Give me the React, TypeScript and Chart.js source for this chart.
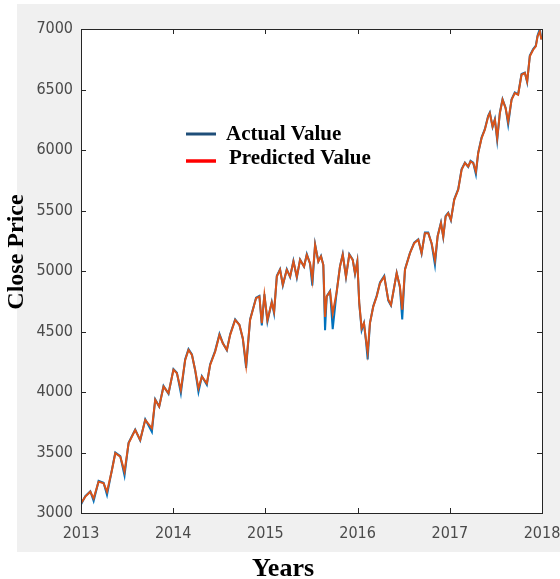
import React, { useEffect, useRef } from "react";
import { Chart, registerables } from "chart.js";

Chart.register(...registerables);

const yearTicks = [2013, 2014, 2015, 2016, 2017, 2018];
const priceTicks = [3000, 3500, 4000, 4500, 5000, 5500, 6000, 6500, 7000];

const years = [
  2013.0, 2013.047, 2013.101, 2013.137, 2013.191, 2013.245, 2013.282, 2013.336, 2013.372, 2013.426,
  2013.472, 2013.516, 2013.588, 2013.642, 2013.697, 2013.769, 2013.805, 2013.848, 2013.895, 2013.949,
  2014.003, 2014.04, 2014.083, 2014.13, 2014.166, 2014.203, 2014.238, 2014.274, 2014.311, 2014.365,
  2014.401, 2014.455, 2014.502, 2014.538, 2014.582, 2014.618, 2014.672, 2014.718, 2014.755, 2014.791,
  2014.834, 2014.899, 2014.935, 2014.961, 2014.989, 2015.022, 2015.069, 2015.094, 2015.124, 2015.159,
  2015.189, 2015.232, 2015.268, 2015.304, 2015.341, 2015.376, 2015.419, 2015.449, 2015.484, 2015.509,
  2015.539, 2015.574, 2015.603, 2015.628, 2015.647, 2015.665, 2015.701, 2015.73, 2015.774, 2015.809,
  2015.839, 2015.874, 2015.91, 2015.947, 2015.972, 2015.997, 2016.018, 2016.044, 2016.069, 2016.091,
  2016.109, 2016.134, 2016.17, 2016.207, 2016.243, 2016.289, 2016.333, 2016.362, 2016.424, 2016.459,
  2016.484, 2016.514, 2016.568, 2016.614, 2016.658, 2016.694, 2016.73, 2016.766, 2016.803, 2016.839,
  2016.868, 2016.904, 2016.929, 2016.955, 2016.983, 2017.012, 2017.048, 2017.091, 2017.128, 2017.164,
  2017.2, 2017.225, 2017.254, 2017.283, 2017.308, 2017.345, 2017.38, 2017.416, 2017.434, 2017.464,
  2017.489, 2017.514, 2017.543, 2017.572, 2017.605, 2017.633, 2017.67, 2017.705, 2017.741, 2017.778,
  2017.814, 2017.839, 2017.868, 2017.904, 2017.933, 2017.952, 2017.976, 2017.994,
];

const actualValues = [
  3070, 3140, 3180, 3100, 3265, 3250, 3150, 3360, 3500, 3470,
  3310, 3580, 3690, 3600, 3775, 3670, 3940, 3880, 4050, 3985,
  4190, 4160, 3990, 4270, 4355, 4310, 4180, 4000, 4130, 4060,
  4230, 4340, 4480, 4405, 4345, 4478, 4600, 4555, 4440, 4200,
  4600, 4780, 4795, 4550, 4808, 4580, 4745, 4650, 4960, 5015,
  4880, 5015, 4950, 5085, 4945, 5095, 5035, 5140, 5060, 4880,
  5220, 5080, 5125, 5050, 4510, 4790, 4835, 4520, 4835, 5040,
  5140, 4950, 5140, 5095, 4975, 5080, 4730, 4510, 4570, 4420,
  4270, 4570, 4710, 4795, 4905, 4960, 4755, 4715, 4985, 4865,
  4600, 5015, 5150, 5235, 5262, 5145, 5318, 5318, 5225, 5050,
  5290, 5400, 5280, 5455, 5482, 5420, 5592, 5676, 5842, 5896,
  5860, 5910, 5895, 5800, 5978, 6104, 6172, 6282, 6310, 6190,
  6255, 6080, 6310, 6420, 6350, 6210, 6420, 6476, 6460, 6628,
  6640, 6560, 6780, 6834, 6862, 6946, 7000, 6915,
];

const predictedValues = [
  3080, 3135, 3176, 3121, 3259, 3245, 3176, 3356, 3494, 3466,
  3342, 3576, 3686, 3604, 3769, 3700, 3935, 3879, 4044, 3990,
  4183, 4155, 4017, 4265, 4348, 4307, 4183, 4031, 4127, 4072,
  4224, 4334, 4472, 4403, 4348, 4472, 4596, 4555, 4445, 4224,
  4596, 4776, 4789, 4569, 4803, 4596, 4740, 4665, 4954, 5010,
  4886, 5010, 4954, 5078, 4954, 5092, 5037, 5134, 5065, 4927,
  5216, 5078, 5120, 5051, 4620, 4789, 4830, 4650, 4830, 5037,
  5134, 4954, 5134, 5092, 4982, 5078, 4734, 4527, 4569, 4431,
  4330, 4569, 4706, 4789, 4900, 4954, 4762, 4720, 4982, 4872,
  4680, 5010, 5148, 5230, 5258, 5148, 5313, 5313, 5230, 5090,
  5285, 5396, 5285, 5450, 5478, 5423, 5588, 5671, 5837, 5892,
  5864, 5905, 5892, 5822, 5974, 6099, 6168, 6277, 6305, 6195,
  6250, 6099, 6305, 6415, 6346, 6236, 6415, 6471, 6457, 6622,
  6636, 6567, 6774, 6829, 6857, 6940, 6981, 6912,
];

const legendLabels = ["Actual Value", "Predicted Value"];

const tickFont = '"Liberation Sans Narrow", "DejaVu Sans Condensed", "Liberation Sans", Arial, sans-serif';
const serifFont = '"Liberation Serif", "Times New Roman", serif';

const decorPlugin = {
  id: "decor",
  beforeDraw(chart: any) {
    const ctx = chart.ctx;
    const { left, right, top, bottom } = chart.chartArea;
    ctx.save();
    ctx.fillStyle = "#f0f0f0";
    ctx.fillRect(17, 4, chart.width - 17, 548);
    ctx.fillStyle = "#ffffff";
    ctx.fillRect(left, top, right - left, bottom - top);
    ctx.restore();
  },
  afterDraw(chart: any) {
    const ctx = chart.ctx;
    const { left, right, top, bottom } = chart.chartArea;
    const xs = chart.scales.x;
    const ys = chart.scales.y;
    ctx.save();
    ctx.strokeStyle = "#262626";
    ctx.lineWidth = 1;
    ctx.strokeRect(Math.round(left) + 0.5, Math.round(top) + 0.5, Math.round(right - left), Math.round(bottom - top));
    ctx.beginPath();
    const tl = 5;
    yearTicks.forEach((v) => {
      const px = Math.round(xs.getPixelForValue(v)) + 0.5;
      ctx.moveTo(px, bottom);
      ctx.lineTo(px, bottom - tl);
      ctx.moveTo(px, top);
      ctx.lineTo(px, top + tl);
    });
    priceTicks.forEach((v) => {
      const py = Math.round(ys.getPixelForValue(v)) + 0.5;
      ctx.moveTo(left, py);
      ctx.lineTo(left + tl, py);
      ctx.moveTo(right, py);
      ctx.lineTo(right - tl, py);
    });
    ctx.stroke();

    // x tick labels
    ctx.fillStyle = "#4a4a4a";
    ctx.font = `16px ${tickFont}`;
    ctx.textAlign = "center";
    ctx.textBaseline = "middle";
    yearTicks.forEach((v) => {
      ctx.fillText(String(v), xs.getPixelForValue(v), bottom + 21);
    });

    // axis titles
    ctx.fillStyle = "#000000";
    ctx.font = `bold 26px ${serifFont}`;
    ctx.textAlign = "center";
    ctx.textBaseline = "middle";
    ctx.fillText("Years", 283, 569);
    ctx.save();
    ctx.translate(17, 252);
    ctx.rotate(-Math.PI / 2);
    ctx.font = `bold 24px ${serifFont}`;
    ctx.fillText("Close Price", 0, 0);
    ctx.restore();

    // legend
    ctx.lineWidth = 3;
    ctx.strokeStyle = "#1f4e79";
    ctx.beginPath();
    ctx.moveTo(186, 134);
    ctx.lineTo(216, 134);
    ctx.stroke();
    ctx.strokeStyle = "#ff0000";
    ctx.lineWidth = 3.5;
    ctx.beginPath();
    ctx.moveTo(186, 161);
    ctx.lineTo(216, 161);
    ctx.stroke();
    ctx.font = `bold 21px ${serifFont}`;
    ctx.textAlign = "left";
    ctx.fillText(legendLabels[0], 226, 135);
    ctx.fillText(legendLabels[1], 229, 159);
    ctx.restore();
  },
};

export default function App() {
  const ref = useRef<HTMLCanvasElement | null>(null);
  useEffect(() => {
    if (!ref.current) return;
    const actual = years.map((x, i) => ({ x, y: actualValues[i] }));
    const predicted = years.map((x, i) => ({ x, y: predictedValues[i] }));
    const chart = new Chart(ref.current, {
      type: "line",
      data: {
        datasets: [
          {
            label: legendLabels[0],
            data: actual,
            borderColor: "#0072BD",
            borderWidth: 2,
            pointRadius: 0,
            tension: 0,
            order: 2,
          },
          {
            label: legendLabels[1],
            data: predicted,
            borderColor: "#D95319",
            borderWidth: 2,
            pointRadius: 0,
            tension: 0,
            order: 1,
          },
        ],
      },
      options: {
        animation: false,
        responsive: false,
        maintainAspectRatio: false,
        layout: { padding: { left: 0, right: 18, top: 29, bottom: 0 } },
        plugins: { legend: { display: false }, tooltip: { enabled: false } },
        scales: {
          x: {
            type: "linear",
            min: 2013,
            max: 2018,
            afterFit: (s: any) => {
              s.height = 66;
            },
            afterBuildTicks: (s: any) => {
              s.ticks = yearTicks.map((v) => ({ value: v }));
            },
            grid: { display: false, drawTicks: false },
            border: { display: false },
            ticks: { display: false },
          },
          y: {
            type: "linear",
            min: 3000,
            max: 7000,
            afterFit: (s: any) => {
              s.width = 81;
            },
            afterBuildTicks: (s: any) => {
              s.ticks = priceTicks.map((v) => ({ value: v }));
            },
            grid: { display: false, drawTicks: false },
            border: { display: false },
            ticks: {
              padding: 8,
              color: "#4a4a4a",
              font: { family: tickFont, size: 16 },
              callback: (v: any) => String(v),
            },
          },
        },
      },
      plugins: [decorPlugin],
    });
    return () => chart.destroy();
  }, []);
  return (
    <div style={{ position: "absolute", left: 0, top: 0, width: 560, height: 579, background: "#ffffff" }}>
      <canvas ref={ref} width={560} height={579} style={{ width: 560, height: 579, display: "block" }} />
    </div>
  );
}
